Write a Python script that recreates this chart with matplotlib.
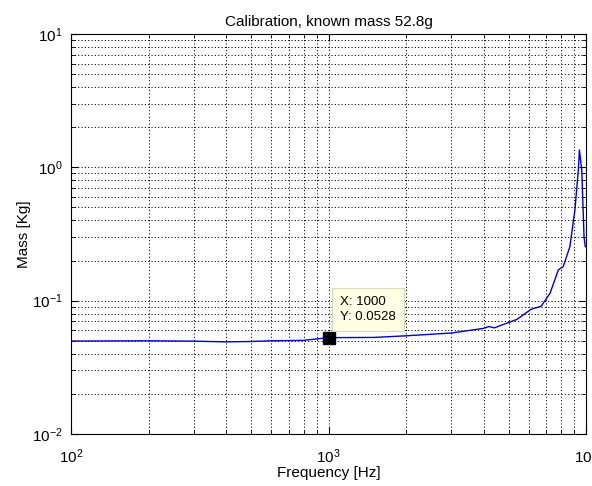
import numpy as np
import matplotlib.pyplot as plt

plt.rcParams['font.family'] = ['Liberation Sans', 'DejaVu Sans']
plt.rcParams['mathtext.default'] = 'regular'
plt.rcParams['lines.scale_dashes'] = False

freq = [100, 150, 200, 300, 400, 500, 600, 800, 1000, 1500, 2000, 3000,
        4000, 4200, 4400, 5400, 6100, 6700, 7250, 7800, 8150, 8650, 9050,
        9330, 9420, 9620, 9820, 9930]
mass = [0.0498, 0.0499, 0.0500, 0.0497, 0.0491, 0.0494, 0.0500, 0.0504,
        0.0528, 0.0530, 0.0545, 0.0572, 0.0620, 0.0640, 0.0625, 0.0725,
        0.0860, 0.0910, 0.1140, 0.1700, 0.1800, 0.2540, 0.4790, 0.9550,
        1.3500, 0.9550, 0.3000, 0.2540]

tip_x = 1000
tip_y = 0.0528
title = 'Calibration, known mass 52.8g'

fig = plt.figure(figsize=(5.92, 4.86), dpi=100)
ax = fig.add_axes([0.120, 0.107, 0.870, 0.823])
ax.plot(freq, mass, color='#0000cc', lw=1.0)
ax.set_xscale('log')
ax.set_yscale('log')
ax.set_xlim(100, 10000)
ax.set_ylim(0.01, 10)

ax.grid(True, which='both', color='black', linestyle=(0, (0.8, 1.6)),
        linewidth=0.7)
ax.tick_params(which='both', direction='in', top=True, right=True,
               labelsize=11)
ax.tick_params(which='major', length=5)
ax.tick_params(which='minor', length=3)
ax.tick_params(axis='x', which='major', pad=10)
ax.tick_params(axis='y', which='major', pad=6)
for s in ax.spines.values():
    s.set_linewidth(0.8)

# data tip
ax.plot(tip_x, tip_y, marker='s', color='black', markersize=9, zorder=5)
ax.annotate('X: 1000\nY: 0.0528', xy=(tip_x, tip_y), xytext=(8.5, 10.5),
            textcoords='offset points', fontsize=9.5, va='bottom', ha='left',
            linespacing=1.3,
            bbox=dict(boxstyle='square,pad=0.6', fc='#ffffe6', ec='#d8d8b8',
                      lw=0.8), zorder=6)

ax.set_title(title, fontsize=11, pad=6)
ax.set_xlabel('Frequency [Hz]', fontsize=11, labelpad=0)
ax.set_ylabel('Mass [Kg]', fontsize=11, labelpad=1)

fig.savefig('out.png', dpi=100)
